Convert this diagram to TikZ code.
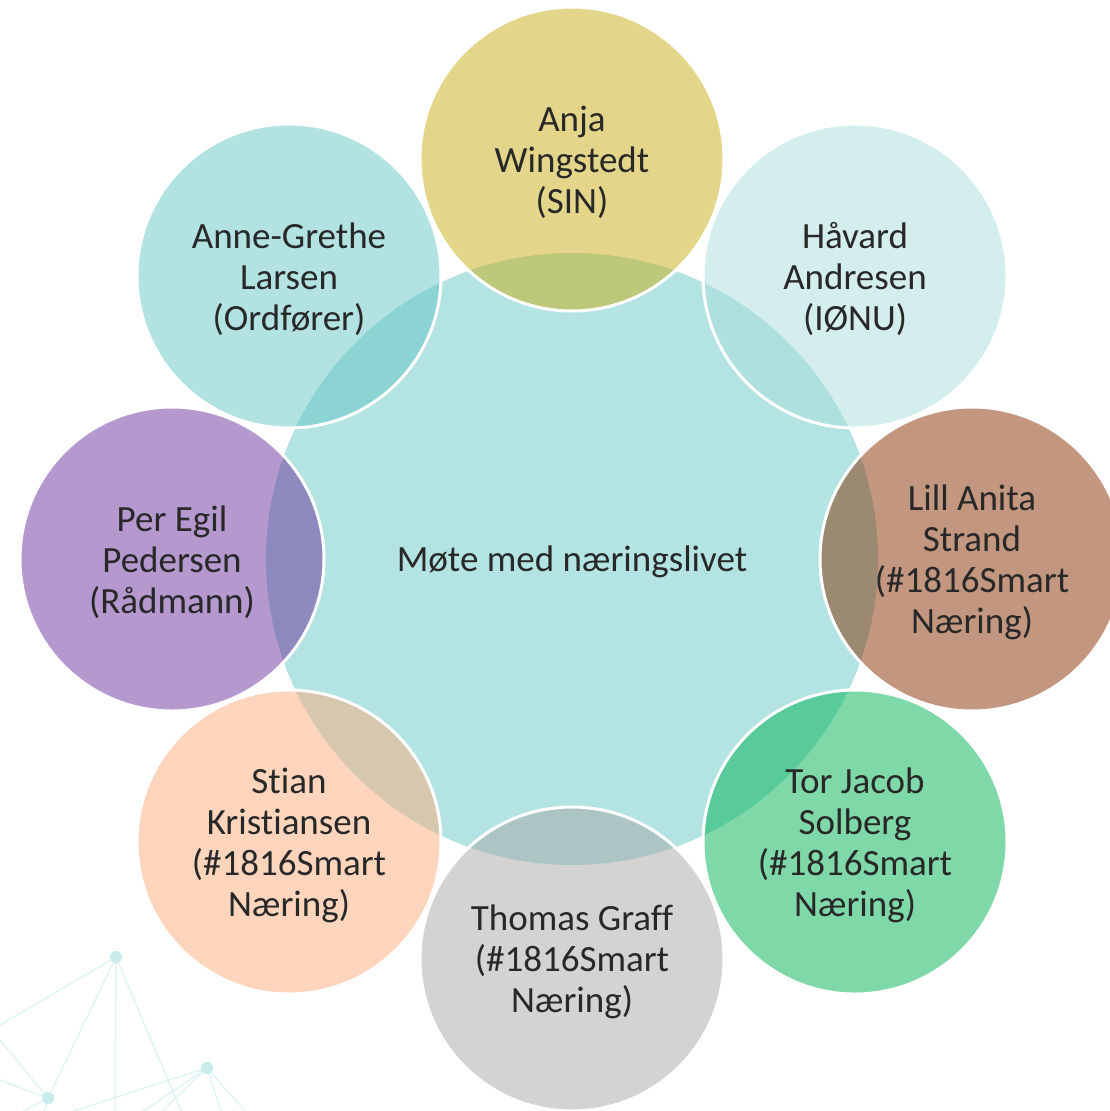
\documentclass[tikz,border=0pt]{standalone}
\usepackage{fontspec}
\setmainfont{Carlito}[Ligatures=NoCommon]
\definecolor{centerfill}{RGB}{179,228,227}
\definecolor{cAnja}{RGB}{199,173,21}
\definecolor{cHavard}{RGB}{169,221,219}
\definecolor{cLill}{RGB}{135,47,0}
\definecolor{cTor}{RGB}{0,177,81}
\definecolor{cThomas}{RGB}{167,167,167}
\definecolor{cStian}{RGB}{251,171,123}
\definecolor{cPer}{RGB}{107,50,158}
\definecolor{cAnne}{RGB}{101,197,197}
\definecolor{txt}{RGB}{40,40,40}
\definecolor{netline}{RGB}{224,244,244}
\definecolor{netdot}{RGB}{200,236,236}
\begin{document}
\begin{tikzpicture}[x=1pt,y=-1pt,
  net/.style={draw=netline,line width=1.5pt},
  netdot/.style={circle,fill=netdot,inner sep=0pt,minimum size=12pt},
  member/.style={circle,minimum size=304pt,inner sep=0pt,draw=white,line width=3pt,
    fill opacity=0.5,draw opacity=1},
  hub/.style={circle,minimum size=612pt,inner sep=0pt,fill=centerfill},
  lbl/.style={align=center,inner sep=0pt,yshift=-3pt,
    font=\fontsize{37}{41}\selectfont,text=txt}]
\useasboundingbox (0,0) rectangle (1110,1111);
\clip (0,0) rectangle (1110,1111);
% background network
\coordinate (e1) at (0,1025);
\coordinate (e2) at (115,1113);
\coordinate (e3) at (182,1113);
\coordinate (e4) at (0,1040);
\coordinate (e5) at (0,1080);
\coordinate (e6) at (20,1113);
\coordinate (e7) at (44,1113);
\coordinate (e8) at (67,1113);
\coordinate (e9) at (140,1113);
\coordinate (e10) at (160,1113);
\coordinate (e11) at (222,1113);
\coordinate (e12) at (247,1113);
\node[netdot] (nc) at (116,957) {};
\node[netdot] (nb) at (48,1098) {};
\node[netdot] (na) at (207,1068) {};
\draw[net] (nc.center) -- (e1) (nc.center) -- (nb.center) (nc.center) -- (e2) (nc.center) -- (e3);
\draw[net] (nb.center) -- (e4) (nb.center) -- (e5) (nb.center) -- (e6) (nb.center) -- (e7);
\draw[net] (na.center) -- (e8) (na.center) -- (e9) (na.center) -- (e10) (na.center) -- (e11) (na.center) -- (e12);
\node[netdot] at (nc) {};
\node[netdot] at (nb) {};
\node[netdot] at (na) {};
% hub
\node[hub] (hub) at (572,559) {};
% members
\node[member,fill=cAnja] (anja) at (572,159) {};
\node[member,fill=cHavard] (havard) at (855,276) {};
\node[member,fill=cLill] (lill) at (972,559) {};
\node[member,fill=cTor] (tor) at (855,842) {};
\node[member,fill=cThomas] (thomas) at (572,959) {};
\node[member,fill=cStian] (stian) at (289,842) {};
\node[member,fill=cPer] (per) at (172,559) {};
\node[member,fill=cAnne] (anne) at (289,276) {};
% labels
\node[lbl] (thub) at (hub.center) {Møte med næringslivet};
\node[lbl] (tanja) at (anja.center) {Anja\\Wingstedt\\(SIN)};
\node[lbl] (thavard) at (havard.center) {Håvard\\Andresen\\(IØNU)};
\node[lbl] (tlill) at (lill.center) {Lill Anita\\Strand\\(\#1816Smart\\Næring)};
\node[lbl] (ttor) at (tor.center) {Tor Jacob\\Solberg\\(\#1816Smart\\Næring)};
\node[lbl] (tthomas) at (thomas.center) {Thomas Graff\\(\#1816Smart\\Næring)};
\node[lbl] (tstian) at (stian.center) {Stian\\Kristiansen\\(\#1816Smart\\Næring)};
\node[lbl] (tper) at (per.center) {Per Egil\\Pedersen\\(Rådmann)};
\node[lbl] (tanne) at (anne.center) {Anne-Grethe\\Larsen\\(Ordfører)};
\end{tikzpicture}
\end{document}
